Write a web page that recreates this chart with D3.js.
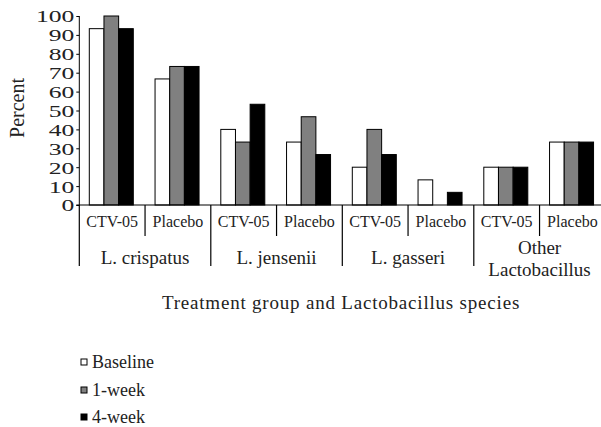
<!DOCTYPE html>
<html>
<head>
<meta charset="utf-8">
<script src="https://cdn.jsdelivr.net/npm/d3@7"></script>
<style>
  body { margin: 0; background: #fff; }
  svg text { font-family: "Liberation Serif", "DejaVu Serif", serif; fill: #222; }
</style>
</head>
<body>
<svg id="chart" width="601" height="427"></svg>
<script>
// -------------- DATA ----------------- //
const species = ["L. crispatus", "L. jensenii", "L. gasseri", "Other Lactobacillus"];
const groups = ["CTV-05", "Placebo"];
const seriesNames = ["Baseline", "1-week", "4-week"];
const seriesColors = ["#ffffff", "#808080", "#000000"];

// one row per species x group, in order
const baseline = [93.3, 66.7, 40, 33.3, 20, 13.3, 20, 33.3];
const week1    = [100, 73.3, 33.3, 46.7, 40, 0, 20, 33.3];
const week4    = [93.3, 73.3, 53.3, 26.7, 26.7, 6.7, 20, 33.3];
const yTicks = [0, 10, 20, 30, 40, 50, 60, 70, 80, 90, 100];

// -------------- SETUP ----------------- //
const svg = d3.select("#chart");
const cats = [];
species.forEach(s => groups.forEach(g => cats.push(s + "|" + g)));
const rows = cats.map((c, i) => ({ key: c, values: [baseline[i], week1[i], week4[i]] }));

const left = 79.3, catW = 65.75, y0 = 205, y100 = 16;

const x0 = d3.scaleBand().domain(cats).range([left, left + catW * cats.length]).padding(0);
const x1 = d3.scaleBand().domain(seriesNames).range([10, 54]).padding(0);
const y = d3.scaleLinear().domain([0, 100]).range([y0, y100]);

// -------------- BARS ----------------- //
const catG = svg.selectAll("g.cat").data(rows).join("g")
    .attr("class", "cat")
    .attr("transform", d => `translate(${x0(d.key)},0)`);

catG.selectAll("rect")
    .data(d => d.values.map((v, i) => ({ v, s: seriesNames[i], i })))
    .join("rect")
    .filter(d => d.v > 0)
    .attr("x", d => x1(d.s))
    .attr("y", d => y(d.v))
    .attr("width", x1.bandwidth())
    .attr("height", d => y0 - y(d.v))
    .attr("fill", d => seriesColors[d.i])
    .attr("stroke", "#000")
    .attr("stroke-width", 1);

// -------------- Y AXIS ----------------- //
const yAxis = svg.append("g")
    .attr("transform", `translate(${left},0)`)
    .call(d3.axisLeft(y).tickValues(yTicks).tickSize(3).tickPadding(2));
yAxis.select(".domain").attr("stroke", "#000").attr("d", `M0,${y100}V${y0}`);
yAxis.selectAll(".tick line").attr("stroke", "#000");
yAxis.selectAll(".tick text")
    .attr("font-family", "Liberation Serif")
    .attr("font-size", 17)
    .attr("fill", "#222")
    .attr("dy", "0.35em")
    .attr("textLength", d => String(d).length * 12.8)
    .attr("lengthAdjust", "spacingAndGlyphs");

// baseline
svg.append("line")
    .attr("x1", left - 3).attr("x2", 601)
    .attr("y1", y0).attr("y2", y0)
    .attr("stroke", "#000").attr("stroke-width", 1.2);

// -------------- X LABELS ----------------- //
cats.forEach((c, i) => {
    const major = i % 2 === 0;
    svg.append("line")
        .attr("x1", x0(c)).attr("x2", x0(c))
        .attr("y1", y0).attr("y2", major ? 266 : 236)
        .attr("stroke", "#000").attr("stroke-width", 1.2);
    svg.append("text")
        .attr("x", x0(c) + catW / 2)
        .attr("y", 227)
        .attr("text-anchor", "middle")
        .attr("font-size", 16)
        .text(c.split("|")[1]);
});

species.forEach((s, i) => {
    const cx = x0(cats[i * 2]) + catW;
    if (s === "Other Lactobacillus") {
        svg.append("text").attr("x", cx).attr("y", 254).attr("text-anchor", "middle")
            .attr("font-size", 19).text("Other");
        svg.append("text").attr("x", cx).attr("y", 276).attr("text-anchor", "middle")
            .attr("font-size", 19).text("Lactobacillus");
    } else {
        svg.append("text").attr("x", cx).attr("y", 264).attr("text-anchor", "middle")
            .attr("font-size", 19).text(s);
    }
});

// axis titles
svg.append("text")
    .attr("x", 341).attr("y", 309)
    .attr("text-anchor", "middle")
    .attr("font-size", 19)
    .attr("letter-spacing", 0.8)
    .text("Treatment group and Lactobacillus species");

svg.append("text")
    .attr("transform", "translate(24,108) rotate(-90)")
    .attr("text-anchor", "middle")
    .attr("font-size", 20)
    .text("Percent");

// -------------- LEGEND ----------------- //
const legend = svg.selectAll("g.legend").data(seriesNames).join("g")
    .attr("class", "legend")
    .attr("transform", (d, i) => `translate(81,${[368, 396, 423][i]})`);
legend.append("rect")
    .attr("x", 0).attr("y", -9)
    .attr("width", 6).attr("height", 6)
    .attr("fill", (d, i) => seriesColors[i])
    .attr("stroke", "#000");
legend.append("text")
    .attr("x", 11).attr("y", 0)
    .attr("font-size", 18)
    .text(d => d);
</script>
</body>
</html>
